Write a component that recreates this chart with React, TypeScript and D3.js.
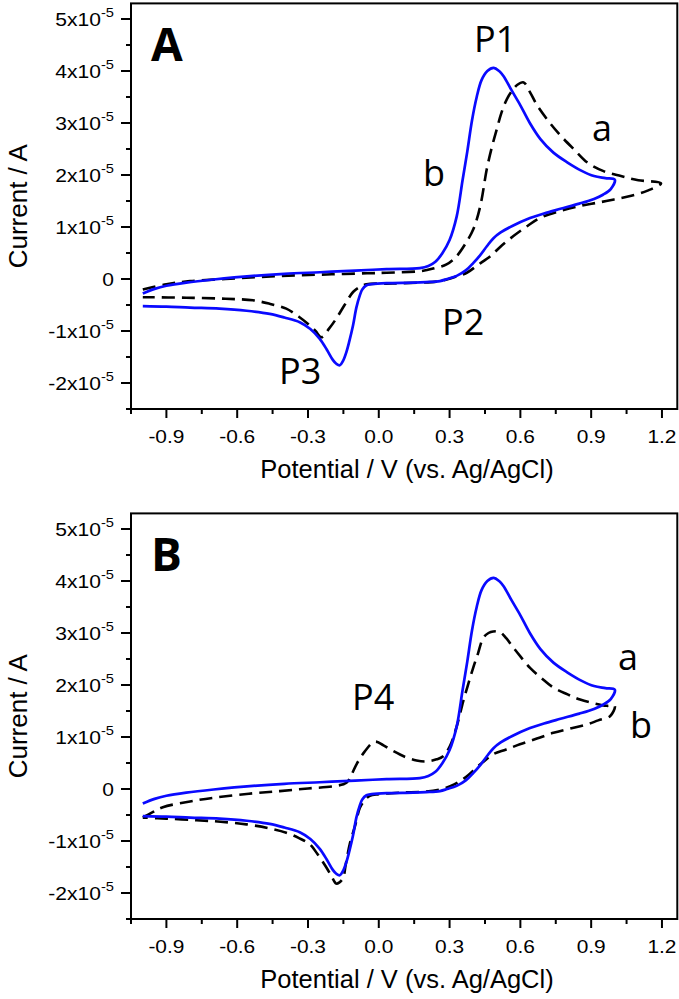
import React from 'react';
import * as d3 from 'd3';

// Axis ticks
const X_TICKS = [-0.9, -0.6, -0.3, 0, 0.3, 0.6, 0.9, 1.2];
const X_TICK_LABELS = ['-0.9', '-0.6', '-0.3', '0.0', '0.3', '0.6', '0.9', '1.2'];
const X_MINOR = [-1.05, -0.75, -0.45, -0.15, 0.15, 0.45, 0.75, 1.05];
const Y_TICKS = [-2, -1, 0, 1, 2, 3, 4, 5];
const Y_TICK_MANTISSA = ['-2', '-1', '0', '1', '2', '3', '4', '5'];
const Y_MINOR = [-2.5, -1.5, -0.5, 0.5, 1.5, 2.5, 3.5, 4.5];

// Solid blue CV (same scan in both panels): potential (V) and current (x10^-5 A)
const blueE = [
  -1.0, -0.95, -0.9, -0.816, -0.7, -0.533, -0.4, -0.25, -0.1, 0.033, 0.174, 0.21, 0.24, 0.27, 0.3, 0.33,
  0.355, 0.375, 0.395, 0.415, 0.435, 0.46, 0.487, 0.51, 0.529, 0.56, 0.6, 0.64, 0.685, 0.74, 0.8, 0.86,
  0.912, 0.96, 1.0,
  0.983, 0.95, 0.912, 0.85, 0.77, 0.7, 0.628, 0.57, 0.515, 0.485, 0.458, 0.43, 0.401, 0.37, 0.33, 0.29,
  0.259, 0.2, 0.146, 0.033, -0.03, -0.052, -0.07, -0.08, -0.095, -0.109, -0.125, -0.137, -0.152, -0.165,
  -0.18, -0.194, -0.22, -0.25, -0.29, -0.335, -0.4, -0.462, -0.56, -0.675, -0.8, -0.9, -1.0,
];
const blueI = [
  -0.28, -0.19, -0.13, -0.07, -0.01, 0.06, 0.1, 0.13, 0.16, 0.19, 0.21, 0.25, 0.33, 0.5, 0.75, 1.2,
  1.9, 2.45, 3.05, 3.5, 3.82, 4.0, 4.06, 4.0, 3.9, 3.65, 3.34, 3.0, 2.69, 2.43, 2.24, 2.08,
  1.98, 1.94, 1.91,
  1.73, 1.62, 1.54, 1.45, 1.35, 1.26, 1.15, 1.03, 0.89, 0.78, 0.63, 0.46, 0.31, 0.17, 0.06, 0.0,
  -0.04, -0.06, -0.07, -0.08, -0.1, -0.12, -0.2, -0.31, -0.55, -0.89, -1.2, -1.4, -1.58, -1.66,
  -1.63, -1.56, -1.36, -1.15, -0.96, -0.83, -0.74, -0.67, -0.61, -0.57, -0.55, -0.53, -0.52,
];

// Dashed CV, panel A (curve a, scan to 1.2 V)
const dashAE = [
  -1.0, -0.9, -0.8, -0.65, -0.5, -0.35, -0.2, -0.05, 0.033, 0.174, 0.23, 0.287, 0.33, 0.37, 0.401, 0.43,
  0.458, 0.48, 0.5, 0.52, 0.543, 0.565, 0.586, 0.614, 0.64, 0.671, 0.72, 0.77, 0.83, 0.884, 0.95, 1.026,
  1.1, 1.196,
  1.139, 1.07, 0.997, 0.93, 0.856, 0.77, 0.685, 0.63, 0.572, 0.52, 0.473, 0.42, 0.373, 0.33, 0.288, 0.245,
  0.1, 0.033, -0.052, -0.08, -0.109, -0.145, -0.18, -0.21, -0.243, -0.268, -0.293, -0.34, -0.392, -0.46,
  -0.533, -0.65, -0.816, -1.0,
];
const dashAI = [
  -0.2, -0.1, -0.04, 0.0, 0.04, 0.07, 0.09, 0.11, 0.12, 0.15, 0.2, 0.28, 0.44, 0.7, 0.96, 1.4,
  2.12, 2.55, 2.88, 3.2, 3.46, 3.62, 3.73, 3.78, 3.6, 3.34, 3.03, 2.76, 2.48, 2.24, 2.08, 1.98,
  1.9, 1.84,
  1.7, 1.6, 1.53, 1.47, 1.41, 1.31, 1.18, 1.02, 0.83, 0.64, 0.44, 0.27, 0.12, 0.05, -0.01, -0.05,
  -0.08, -0.09, -0.1, -0.15, -0.25, -0.5, -0.76, -0.95, -1.12, -1.0, -0.89, -0.72, -0.57, -0.48,
  -0.41, -0.38, -0.36, -0.35,
];

// Dashed CV, panel B (curve b)
const dashBE = [
  -1.0, -0.96, -0.915, -0.8, -0.703, -0.55, -0.42, -0.3, -0.18, -0.137, -0.115, -0.095, -0.06, -0.017, 0.02,
  0.061, 0.11, 0.16, 0.2, 0.245, 0.273, 0.301, 0.33, 0.358, 0.38, 0.4, 0.42, 0.443, 0.465, 0.485, 0.513,
  0.54, 0.57, 0.6, 0.641, 0.69, 0.74, 0.8, 0.853, 0.91, 0.966, 1.0,
  0.98, 0.93, 0.881, 0.81, 0.74, 0.67, 0.598, 0.54, 0.485, 0.45, 0.414, 0.38, 0.344, 0.3, 0.259, 0.2,
  0.089, 0.0, -0.038, -0.06, -0.08, -0.1, -0.123, -0.14, -0.151, -0.168, -0.18, -0.2, -0.222, -0.26,
  -0.293, -0.34, -0.392, -0.47, -0.561, -0.67, -0.773, -0.9, -1.0,
];
const dashBI = [
  -0.55, -0.45, -0.35, -0.24, -0.17, -0.09, -0.04, 0.01, 0.06, 0.12, 0.28, 0.47, 0.72, 0.91, 0.84,
  0.73, 0.62, 0.55, 0.53, 0.57, 0.63, 0.82, 1.2, 1.69, 2.03, 2.33, 2.6, 2.91, 3.0, 3.03, 3.02,
  2.9, 2.72, 2.55, 2.33, 2.13, 1.95, 1.82, 1.72, 1.65, 1.6, 1.6,
  1.4, 1.32, 1.24, 1.16, 1.08, 0.97, 0.86, 0.76, 0.67, 0.55, 0.41, 0.27, 0.15, 0.05, -0.01, -0.05,
  -0.07, -0.1, -0.13, -0.22, -0.36, -0.7, -1.06, -1.45, -1.71, -1.8, -1.82, -1.68, -1.51, -1.25,
  -1.06, -0.94, -0.84, -0.75, -0.68, -0.63, -0.6, -0.57, -0.55,
];

const X_DOMAIN = [-1.05, 1.265];
const Y_DOMAIN = [-2.5, 5.3];

const AX_FONT = '"Liberation Sans", Arial, sans-serif';
const ANN_FONT = '"Open Sans", sans-serif';
const BLUE = '#0a0aff';

type Ann = { t: string; x: number; y: number };

function zip(E: number[], I: number[]): [number, number][] {
  return E.map((e, i) => [e, I[i]]);
}

function Panel({ oy, letter, dashE, dashI, anns }: { oy: number; letter: string; dashE: number[]; dashI: number[]; anns: Ann[] }) {
  const left = 131, right = 677.3;
  const y0 = oy + 279;
  const unit = 52;
  const x = d3.scaleLinear().domain(X_DOMAIN).range([left, right]);
  const y = d3
    .scaleLinear()
    .domain(Y_DOMAIN)
    .range([y0 - Y_DOMAIN[0] * unit, y0 - Y_DOMAIN[1] * unit]);
  const top = y(Y_DOMAIN[1]);
  const bottom = y(Y_DOMAIN[0]);
  const line = d3
    .line<[number, number]>()
    .x((d) => x(d[0]))
    .y((d) => y(d[1]))
    .curve(d3.curveCatmullRom.alpha(0.5));
  const midY = (top + bottom) / 2;
  return (
    <g>
      <path d={line(zip(dashE, dashI)) || ''} fill="none" stroke="#000" strokeWidth={2.6} strokeDasharray="13,7" />
      <path d={line(zip(blueE, blueI)) || ''} fill="none" stroke={BLUE} strokeWidth={2.7} />
      <rect x={left} y={top} width={right - left} height={bottom - top} fill="none" stroke="#000" strokeWidth={2} />
      {X_TICKS.map((t, i) => (
        <g key={'xt' + i}>
          <line x1={x(t)} x2={x(t)} y1={bottom} y2={bottom + 9} stroke="#000" strokeWidth={2} />
          <text
            transform={`translate(${x(t)},${bottom + 34}) scale(1.1,1)`}
            textAnchor="middle"
            fontFamily={AX_FONT}
            fontSize={19}
          >
            {X_TICK_LABELS[i]}
          </text>
        </g>
      ))}
      {X_MINOR.map((t, i) => (
        <line key={'xm' + i} x1={x(t)} x2={x(t)} y1={bottom} y2={bottom + 5} stroke="#000" strokeWidth={2} />
      ))}
      {Y_TICKS.map((t, i) => (
        <g key={'yt' + i}>
          <line x1={left} x2={left - 10} y1={y(t)} y2={y(t)} stroke="#000" strokeWidth={2} />
          <text
            transform={`translate(${left - 17},${y(t) + 7}) scale(1.17,1)`}
            textAnchor="end"
            fontFamily={AX_FONT}
            fontSize={18}
          >
            {t === 0 ? (
              '0'
            ) : (
              <>
                <tspan>{Y_TICK_MANTISSA[i] + 'x10'}</tspan>
                <tspan dy={-9} fontSize={12.5}>
                  -5
                </tspan>
              </>
            )}
          </text>
        </g>
      ))}
      {Y_MINOR.map((t, i) => (
        <line key={'ym' + i} x1={left} x2={left - 5} y1={y(t)} y2={y(t)} stroke="#000" strokeWidth={2} />
      ))}
      <text x={407} y={bottom + 69} textAnchor="middle" fontFamily={AX_FONT} fontSize={25.5}>
        Potential / V (vs. Ag/AgCl)
      </text>
      <text
        transform={`translate(27,${midY}) rotate(-90)`}
        textAnchor="middle"
        fontFamily={AX_FONT}
        fontSize={26}
      >
        Current / A
      </text>
      <text x={151} y={oy + 61} fontFamily={ANN_FONT} fontWeight={700} fontSize={46}>
        {letter}
      </text>
      {anns.map((a, i) => (
        <text key={'an' + i} x={a.x} y={oy + a.y} fontFamily={ANN_FONT} fontSize={36}>
          {a.t}
        </text>
      ))}
    </g>
  );
}

const ANN_A: Ann[] = [
  { t: 'P1', x: 474, y: 52 },
  { t: 'b', x: 423, y: 186 },
  { t: 'a', x: 592, y: 141 },
  { t: 'P2', x: 442, y: 335 },
  { t: 'P3', x: 279, y: 384 },
];
const ANN_B: Ann[] = [
  { t: 'P4', x: 352, y: 200 },
  { t: 'a', x: 618, y: 160 },
  { t: 'b', x: 630, y: 228 },
];

export default function App() {
  return (
    <svg width={679} height={999} style={{ position: 'absolute', left: 0, top: 0, background: '#fff' }}>
      <rect width={679} height={999} fill="#fff" />
      <Panel oy={0} letter="A" dashE={dashAE} dashI={dashAI} anns={ANN_A} />
      <Panel oy={510} letter="B" dashE={dashBE} dashI={dashBI} anns={ANN_B} />
    </svg>
  );
}
